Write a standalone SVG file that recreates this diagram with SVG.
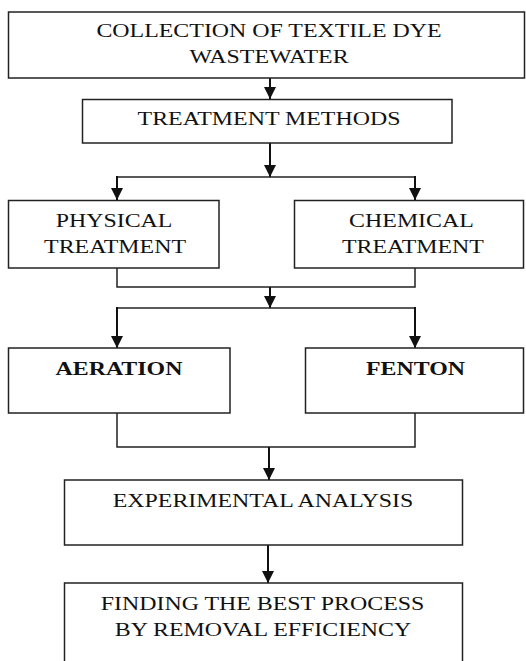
<svg xmlns="http://www.w3.org/2000/svg" width="526" height="661" viewBox="0 0 526 661">
<style>
.box{fill:#fff;stroke:#222;stroke-width:1.5}
.ln{fill:none;stroke:#222;stroke-width:1.5}
.ar{fill:none;stroke:#111;stroke-width:2}
text{font-family:"Liberation Serif","Times New Roman",serif;font-size:19.5px;fill:#111;text-anchor:middle}
.b{font-weight:bold}
</style>
<defs>
<marker id="ah" markerUnits="userSpaceOnUse" markerWidth="12" markerHeight="12" viewBox="0 0 11 11" refX="11" refY="5.5" orient="auto">
<path d="M0,0 L11,5.5 L0,11 z" fill="#111"/>
</marker>
</defs>
<rect width="526" height="661" fill="#fff"/>
<g id="connectors">
<line class="ar" x1="270" y1="78" x2="270" y2="99" marker-end="url(#ah)"/>
<line class="ar" x1="270" y1="143" x2="270" y2="177" marker-end="url(#ah)"/>
<line class="ln" x1="117" y1="177" x2="415" y2="177"/>
<line class="ar" x1="117" y1="176" x2="117" y2="200" marker-end="url(#ah)"/>
<line class="ar" x1="415" y1="176" x2="415" y2="200" marker-end="url(#ah)"/>
<path class="ln" d="M117,268 V287 H415 V268"/>
<line class="ar" x1="270" y1="287" x2="270" y2="308" marker-end="url(#ah)"/>
<line class="ln" x1="117" y1="308" x2="415" y2="308"/>
<line class="ar" x1="117" y1="307" x2="117" y2="348" marker-end="url(#ah)"/>
<line class="ar" x1="415" y1="307" x2="415" y2="348" marker-end="url(#ah)"/>
<path class="ln" d="M117,413 V447 H415 V413"/>
<line class="ar" x1="269" y1="447" x2="269" y2="480" marker-end="url(#ah)"/>
<line class="ar" x1="268" y1="545" x2="268" y2="583" marker-end="url(#ah)"/>
</g>
<g id="n1">
<rect class="box" x="8.5" y="12" width="516" height="66"/>
<text transform="scale(1.225 1)" x="219.6" y="37">COLLECTION OF TEXTILE DYE</text>
<text transform="scale(1.225 1)" x="219.6" y="63">WASTEWATER</text>
</g>
<g id="n2">
<rect class="box" x="82.5" y="99.5" width="369.5" height="43.5"/>
<text transform="scale(1.225 1)" x="219.6" y="125">TREATMENT METHODS</text>
</g>
<g id="n3">
<rect class="box" x="8.5" y="200.5" width="210.5" height="67.5"/>
<text transform="scale(1.225 1)" x="93.1" y="227">PHYSICAL</text>
<text transform="scale(1.225 1)" x="93.9" y="253">TREATMENT</text>
</g>
<g id="n4">
<rect class="box" x="294.5" y="200.5" width="229" height="67.5"/>
<text transform="scale(1.225 1)" x="335.9" y="227">CHEMICAL</text>
<text transform="scale(1.225 1)" x="337.1" y="253">TREATMENT</text>
</g>
<g id="n5">
<rect class="box" x="8.5" y="348" width="221.5" height="65"/>
<text class="b" transform="scale(1.225 1)" x="97.1" y="375">AERATION</text>
</g>
<g id="n6">
<rect class="box" x="305.5" y="348" width="218" height="65"/>
<text class="b" transform="scale(1.225 1)" x="339.2" y="375">FENTON</text>
</g>
<g id="n7">
<rect class="box" x="64.5" y="480" width="398" height="65"/>
<text transform="scale(1.225 1)" x="214.7" y="507">EXPERIMENTAL ANALYSIS</text>
</g>
<g id="n8">
<path class="box" d="M64.5,662 V583 H462.5 V662"/>
<text transform="scale(1.225 1)" x="214.3" y="610">FINDING THE BEST PROCESS</text>
<text transform="scale(1.225 1)" x="214.7" y="636">BY REMOVAL EFFICIENCY</text>
</g>
</svg>
